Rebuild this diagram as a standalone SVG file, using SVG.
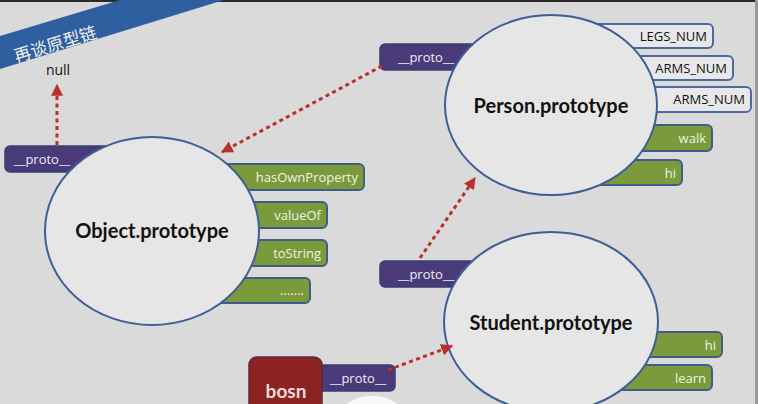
<svg xmlns="http://www.w3.org/2000/svg" width="758" height="404" viewBox="0 0 758 404">
<defs>
<style>
.bg{fill:#dadada}
.ell{fill:#e6e6e6;stroke:#3d5f96;stroke-width:2}
.title{font-family:Lato,"Liberation Sans",sans-serif;font-weight:bold;font-size:20px;fill:#111;text-anchor:middle}
.pr{fill:#4a3a7a;stroke:#34406e;stroke-width:1.5}
.gr{fill:#7b9a3c;stroke:#3f5c8a;stroke-width:2}
.wh{fill:#e8e8ea;stroke:#4a6aa0;stroke-width:2}
.lt{font-family:"Open Sans","Liberation Sans",sans-serif;font-size:13px}
.lw{fill:#ecebf4}
.lg{fill:#eef3e2;text-anchor:end}
.lk{fill:#111;text-anchor:end}
.arr{fill:none;stroke:#b9302c;stroke-width:3;stroke-dasharray:4 3.5}
</style>
<marker id="ah" viewBox="0 0 10 10" refX="9" refY="5" markerWidth="4" markerHeight="4" orient="auto" markerUnits="strokeWidth">
<path d="M0,0 L10,5 L0,10 z" fill="#b9302c"/>
</marker>
</defs>
<rect class="bg" x="0" y="0" width="758" height="404"/>
<rect x="0" y="0" width="758" height="2" fill="#2a2a2a"/>
<rect x="755" y="0" width="3" height="404" fill="#9a9a9a"/>
<g id="banner">
<polygon points="0,36 120,0 224,0 0,69" fill="#2f5f9e"/>
<text x="57" y="50" transform="rotate(-17 57 50)" font-family="'Noto Sans CJK SC',sans-serif" font-size="17" fill="#f2f2f2" text-anchor="middle">再谈原型链</text>
</g>
<g id="null"><text x="58" y="75" font-family="'Open Sans','Liberation Sans',sans-serif" font-size="14" fill="#111" text-anchor="middle">null</text></g>

<g id="object-proto-node">
<rect class="pr" x="5" y="146" width="110" height="26" rx="5"/>
<text class="lt lw" x="14" y="164">__proto__</text>
<rect class="gr" x="200" y="164" width="164" height="26" rx="5"/>
<text class="lt lg" x="358" y="182">hasOwnProperty</text>
<rect class="gr" x="200" y="202" width="127" height="26" rx="5"/>
<text class="lt lg" x="321" y="220">valueOf</text>
<rect class="gr" x="200" y="240" width="127" height="26" rx="5"/>
<text class="lt lg" x="321" y="258">toString</text>
<rect class="gr" x="200" y="278" width="110" height="25" rx="5"/>
<text class="lt lg" x="304" y="295">.......</text>
<ellipse class="ell" cx="152" cy="231" rx="107" ry="94"/>
<text class="title" x="152" y="238">Object.prototype</text>
</g>

<g id="person-proto-node">
<rect class="pr" x="380" y="44" width="110" height="26" rx="5"/>
<text class="lt lw" x="398" y="62">__proto__</text>
<rect class="wh" x="580" y="24" width="133" height="24" rx="5"/>
<text class="lt lk" x="707" y="41">LEGS_NUM</text>
<rect class="wh" x="600" y="56" width="133" height="24" rx="5"/>
<text class="lt lk" x="727" y="73">ARMS_NUM</text>
<rect class="wh" x="620" y="87" width="131" height="25" rx="5"/>
<text class="lt lk" x="745" y="104">ARMS_NUM</text>
<rect class="gr" x="600" y="125" width="112" height="26" rx="5"/>
<text class="lt lg" x="706" y="143">walk</text>
<rect class="gr" x="590" y="160" width="92" height="25" rx="5"/>
<text class="lt lg" x="676" y="178">hi</text>
<ellipse class="ell" cx="551" cy="105" rx="106" ry="90"/>
<text class="title" x="551" y="113">Person.prototype</text>
</g>

<g id="student-proto-node">
<rect class="pr" x="380" y="261" width="110" height="26" rx="5"/>
<text class="lt lw" x="398" y="279">__proto__</text>
<rect class="gr" x="620" y="332" width="102" height="25" rx="5"/>
<text class="lt lg" x="716" y="350">hi</text>
<rect class="gr" x="605" y="365" width="107" height="25" rx="5"/>
<text class="lt lg" x="706" y="383">learn</text>
<ellipse class="ell" cx="551" cy="322" rx="107" ry="90"/>
<text class="title" x="551" y="330">Student.prototype</text>
</g>

<g id="bosn-node">
<rect class="pr" x="300" y="365" width="95" height="26" rx="5"/>
<text class="lt lw" x="330" y="383">__proto__</text>
<rect x="249" y="357" width="73" height="60" rx="8" fill="#8c2323" stroke="#5e2a3a" stroke-width="1.5"/>
<text x="286" y="398" font-family="Lato,'Liberation Sans',sans-serif" font-weight="bold" font-size="19" fill="#f3dcd6" text-anchor="middle">bosn</text>
</g>
<ellipse cx="372" cy="414" rx="30" ry="18" fill="#f7f7f7"/>

<g id="connectors">
<path class="arr" d="M57,145 L57,85" marker-end="url(#ah)"/>
<path class="arr" d="M382,66 L222,152" marker-end="url(#ah)"/>
<path class="arr" d="M420,258 L475,178" marker-end="url(#ah)"/>
<path class="arr" d="M388,370 L452,346" marker-end="url(#ah)"/>
</g>
</svg>
